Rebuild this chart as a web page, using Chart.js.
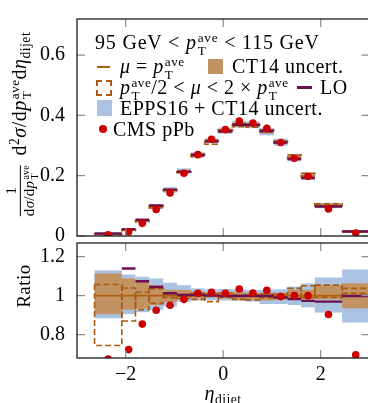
<!DOCTYPE html>
<html>
<head>
<meta charset="utf-8">
<script src="https://cdn.jsdelivr.net/npm/chart.js@4.4.1/dist/chart.umd.min.js"></script>
<style>
  html, body { margin: 0; padding: 0; background: #fff; overflow: hidden; }
  #wrap { position: relative; width: 368px; height: 403px; overflow: hidden;
          font-family: 'Liberation Serif', serif; color: #000; }
  canvas { position: absolute; left: 0; }
  #topCanvas { top: -40px; }
  #ratioCanvas { top: 200px; }
  .txt { position: absolute; white-space: nowrap; font-size: 20px; line-height: 22px; letter-spacing: 0.5px; }
  .ss { display: inline-block; vertical-align: -0.42em; font-size: 0.66em; line-height: 0.95; text-align: left; margin-left: 1px; }
  .ss span { display: block; }
  .sub { font-size: 0.68em; vertical-align: -0.3em; }
  .sup { font-size: 0.68em; vertical-align: 0.45em; }
  .rot { transform: translate(-50%, -50%) rotate(-90deg); }
  .frac { display: inline-block; vertical-align: middle; text-align: center; font-size: 15px; line-height: 1.1; margin-right: 4px; letter-spacing: 0.3px; }
  .frac .fn { display: block; border-bottom: 1px solid #000; padding: 0 1px; }
  .frac .fd { display: block; }
  .sym { position: absolute; }
</style>
</head>
<body>
<div id="wrap">
  <canvas id="topCanvas" width="380" height="320"></canvas>
  <canvas id="ratioCanvas" width="380" height="260"></canvas>

  <!-- axis titles -->
  <div class="txt rot" style="left:21px; top:124px; font-size:20px;">
    <span class="frac"><span class="fn">1</span><span class="fd">d<i>σ</i>/d<i>p</i><span class="ss"><span>ave</span><span>T</span></span></span></span>
    d<span class="sup">2</span><i>σ</i>/d<i>p</i><span class="ss"><span>ave</span><span>T</span></span>d<i>η</i><span class="sub">dijet</span>
  </div>
  <div class="txt rot" style="left:24px; top:286px; font-size:19px;">Ratio</div>
  <div class="txt" style="left:223px; top:382px; transform: translateX(-50%);"><i>η</i><span class="sub">dijet</span></div>

  <!-- legend -->
  <div class="txt" style="left:95px; top:31px; letter-spacing:0.8px;">95 GeV &lt; <i>p</i><span class="ss"><span>ave</span><span>T</span></span> &lt; 115 GeV</div>

  <div class="sym" style="left:97px; top:66px; width:13px; height:2px; background:#b0600f;"></div>
  <div class="txt" style="left:120px; top:55px;"><i>μ</i> = <i>p</i><span class="ss"><span>ave</span><span>T</span></span></div>
  <div class="sym" style="left:208px; top:59px; width:15px; height:15px; background:#c39263;"></div>
  <div class="txt" style="left:232px; top:55px;">CT14 uncert.</div>

  <div class="sym" style="left:96px; top:80px; width:12px; height:12px; border:2px dashed #a85a10;"></div>
  <div class="txt" style="left:120px; top:76px;"><i>p</i><span class="ss"><span>ave</span><span>T</span></span>/2 &lt; <i>μ</i> &lt; 2 × <i>p</i><span class="ss"><span>ave</span><span>T</span></span></div>
  <div class="sym" style="left:297px; top:86px; width:15px; height:2.5px; background:#6e1050;"></div>
  <div class="txt" style="left:320px; top:76px;">LO</div>

  <div class="sym" style="left:97px; top:100px; width:15px; height:16px; background:#abc2e0;"></div>
  <div class="txt" style="left:120px; top:97px;">EPPS16 + CT14 uncert.</div>

  <div class="sym" style="left:99px; top:125px; width:8px; height:8px; border-radius:50%; background:#cc0000;"></div>
  <div class="txt" style="left:113px; top:118px;">CMS pPb</div>
</div>

<script>
// bins in eta_dijet
const binEdges = [-2.64, -2.08, -1.80, -1.52, -1.23, -0.95, -0.66, -0.38, -0.10, 0.19, 0.47, 0.75, 1.04, 1.32, 1.60, 1.88, 2.44, 3.00];
const etaCenters = [-2.36, -1.94, -1.66, -1.375, -1.09, -0.805, -0.52, -0.24, 0.045, 0.33, 0.61, 0.895, 1.18, 1.46, 1.74, 2.16, 2.72];

// normalised cross section (top panel)
const cmsXsec = [0.004, 0.014, 0.042, 0.088, 0.143, 0.208, 0.270, 0.321, 0.353, 0.381, 0.375, 0.357, 0.310, 0.258, 0.198, 0.090, 0.010];
const nloXsec = [0.006, 0.020, 0.050, 0.097, 0.152, 0.213, 0.268, 0.314, 0.348, 0.370, 0.369, 0.349, 0.313, 0.260, 0.198, 0.101, 0.015];

// ratios to NLO (mu = pT ave)
const cmsRatio = [0.675, 0.723, 0.854, 0.925, 0.951, 0.981, 1.012, 1.017, 1.012, 1.034, 1.013, 1.027, 0.995, 1.000, 1.000, 0.903, 0.696];
const loRatio = [1.35, 1.139, 1.074, 1.044, 1.012, 1.003, 1.003, 1.000, 0.998, 0.998, 0.998, 0.998, 0.991, 0.983, 0.973, 0.969, 0.998];
const epps16Hi = [1.130, 1.108, 1.097, 1.088, 1.066, 1.054, 1.037, 1.032, 1.034, 1.032, 1.029, 1.029, 1.032, 1.046, 1.063, 1.093, 1.134];
const epps16Lo = [0.884, 0.905, 0.915, 0.927, 0.944, 0.969, 0.975, 0.978, 0.975, 0.973, 0.969, 0.957, 0.957, 0.952, 0.940, 0.913, 0.862];
const ct14Hi = [1.113, 1.088, 1.080, 1.054, 1.030, 1.029, 1.020, 1.015, 1.020, 1.017, 1.015, 1.015, 1.015, 1.029, 1.030, 1.054, 1.063];
const ct14Lo = [0.905, 0.927, 0.934, 0.952, 0.967, 0.986, 0.986, 0.990, 0.986, 0.978, 0.981, 0.975, 0.981, 0.981, 0.980, 0.981, 0.935];
const scaleHi = [1.057, 1.039, 1.017, 1.036, 1.010, 1.000, 1.012, 1.010, 1.012, 1.003, 1.003, 1.008, 1.005, 1.037, 1.051, 1.054, 1.037];
const scaleLo = [0.744, 0.870, 0.928, 0.960, 0.990, 0.985, 0.981, 0.969, 0.991, 0.981, 0.978, 0.990, 0.985, 0.990, 0.990, 0.991, 1.012];

// tick positions
const xTicks = [-2, 0, 2];
const yTicksTop = [0, 0.2, 0.4, 0.6];
const yTicksRatio = [0.8, 1.0, 1.2];

const colors = {
    cms: '#cc0000',
    epps: '#abc2e0',
    ct14: '#c39263',
    nlo: '#b0600f',
    scale: '#a85a10',
    lo: '#6e1050'
};

Chart.defaults.font.family = "'Liberation Serif', serif";
Chart.defaults.font.size = 20;
Chart.defaults.color = '#000';

// theory bands drawn bin by bin through the chart scales
const binBands = {
    id: 'binBands',
    beforeDatasetsDraw(chart, args, opts) {
        const { ctx, chartArea: a, scales: { x, y } } = chart;
        const norm = opts.norm;
        const f = i => (norm ? norm[i] : 1);
        const py = (arr, i) => y.getPixelForValue(arr[i] * f(i));
        const nBins = binEdges.length - 1;

        ctx.save();
        ctx.beginPath();
        ctx.rect(a.left, a.top, a.width, a.height);
        ctx.clip();

        const box = (i, lo, hi, color) => {
            const x0 = x.getPixelForValue(binEdges[i]);
            const x1 = x.getPixelForValue(binEdges[i + 1]);
            const y0 = py(hi, i), y1 = py(lo, i);
            ctx.fillStyle = color;
            ctx.fillRect(x0, y0, x1 - x0, Math.max(y1 - y0, 1));
        };
        for (let i = 0; i < nBins; i++) box(i, epps16Lo, epps16Hi, colors.epps);
        for (let i = 0; i < nBins; i++) box(i, ct14Lo, ct14Hi, colors.ct14);

        // scale variation: dashed boxes
        ctx.strokeStyle = colors.scale;
        ctx.lineWidth = 1.6;
        ctx.setLineDash([6, 3]);
        for (let i = 0; i < nBins; i++) {
            const x0 = x.getPixelForValue(binEdges[i]);
            const x1 = x.getPixelForValue(binEdges[i + 1]);
            ctx.strokeRect(x0, py(scaleHi, i), x1 - x0, py(scaleLo, i) - py(scaleHi, i));
        }
        ctx.setLineDash([]);

        // nominal NLO
        ctx.strokeStyle = colors.nlo;
        ctx.lineWidth = 1.8;
        ctx.beginPath();
        for (let i = 0; i < nBins; i++) {
            const yy = y.getPixelForValue(f(i));
            ctx.moveTo(x.getPixelForValue(binEdges[i]), yy);
            ctx.lineTo(x.getPixelForValue(binEdges[i + 1]), yy);
        }
        ctx.stroke();

        // LO
        ctx.strokeStyle = colors.lo;
        ctx.lineWidth = 2.4;
        ctx.beginPath();
        for (let i = 0; i < nBins; i++) {
            const yy = py(loRatio, i);
            ctx.moveTo(x.getPixelForValue(binEdges[i]), yy);
            ctx.lineTo(x.getPixelForValue(binEdges[i + 1]), yy);
        }
        ctx.stroke();
        ctx.restore();
    }
};

// pgfplots-like frame with inward ticks
const frameTicks = {
    id: 'frameTicks',
    afterDraw(chart, args, opts) {
        const { ctx, chartArea: a, scales: { x, y } } = chart;
        ctx.save();
        ctx.strokeStyle = '#8c8c8c';
        ctx.lineWidth = 1.2;
        ctx.beginPath();
        xTicks.forEach(t => {
            const px = x.getPixelForValue(t);
            ctx.moveTo(px, a.top); ctx.lineTo(px, a.top + 8);
            ctx.moveTo(px, a.bottom); ctx.lineTo(px, a.bottom - 8);
        });
        opts.yTicks.forEach(t => {
            const yy = y.getPixelForValue(t);
            ctx.moveTo(a.left, yy); ctx.lineTo(a.left + 8, yy);
            ctx.moveTo(a.right, yy); ctx.lineTo(a.right - 8, yy);
        });
        ctx.stroke();
        ctx.strokeStyle = '#1a1a1a';
        ctx.lineWidth = 1.3;
        ctx.strokeRect(a.left, a.top, a.width, a.height);
        ctx.restore();
    }
};

const fmt = v => {
    const r = Math.round(v * 10) / 10;
    return r < 0 ? '\u2212' + Math.abs(r) : String(r);
};

function yScale(min, max, tickList) {
    return {
        min: min, max: max,
        grid: { display: false, drawTicks: false },
        border: { display: false },
        ticks: { padding: 12, callback: fmt },
        afterBuildTicks: s => { s.ticks = tickList.map(v => ({ value: v })); },
        afterFit: s => { s.width = 77; }
    };
}

new Chart(document.getElementById('topCanvas'), {
    type: 'scatter',
    data: {
        datasets: [{
            label: 'CMS pPb',
            data: etaCenters.map((e, i) => ({ x: e, y: cmsXsec[i] })),
            backgroundColor: colors.cms,
            borderWidth: 0,
            pointRadius: 3.8
        }]
    },
    options: {
        responsive: false,
        animation: false,
        devicePixelRatio: 1,
        layout: { padding: { left: 0, top: 59, right: 10.6, bottom: 44 } },
        plugins: {
            legend: { display: false },
            tooltip: { enabled: false },
            binBands: { norm: nloXsec },
            frameTicks: { yTicks: yTicksTop }
        },
        scales: {
            x: { type: 'linear', min: -3, max: 3, display: false },
            y: yScale(0, 0.72, yTicksTop)
        }
    },
    plugins: [binBands, frameTicks]
});

new Chart(document.getElementById('ratioCanvas'), {
    type: 'scatter',
    data: {
        datasets: [{
            label: 'CMS pPb / NLO',
            data: etaCenters.map((e, i) => ({ x: e, y: cmsRatio[i] })),
            backgroundColor: colors.cms,
            borderWidth: 0,
            pointRadius: 3.8
        }]
    },
    options: {
        responsive: false,
        animation: false,
        devicePixelRatio: 1,
        layout: { padding: { left: 0, top: 43, right: 10.6, bottom: 57 } },
        plugins: {
            legend: { display: false },
            tooltip: { enabled: false },
            binBands: { norm: null },
            frameTicks: { yTicks: yTicksRatio }
        },
        scales: {
            x: {
                type: 'linear', min: -3, max: 3,
                grid: { display: false, drawTicks: false },
                border: { display: false },
                ticks: { padding: 5, callback: fmt, maxRotation: 0 },
                afterBuildTicks: s => { s.ticks = xTicks.map(v => ({ value: v })); },
                afterFit: s => { s.height = 45; }
            },
            y: yScale(0.68, 1.27, yTicksRatio)
        }
    },
    plugins: [binBands, frameTicks]
});
</script>
</body>
</html>
